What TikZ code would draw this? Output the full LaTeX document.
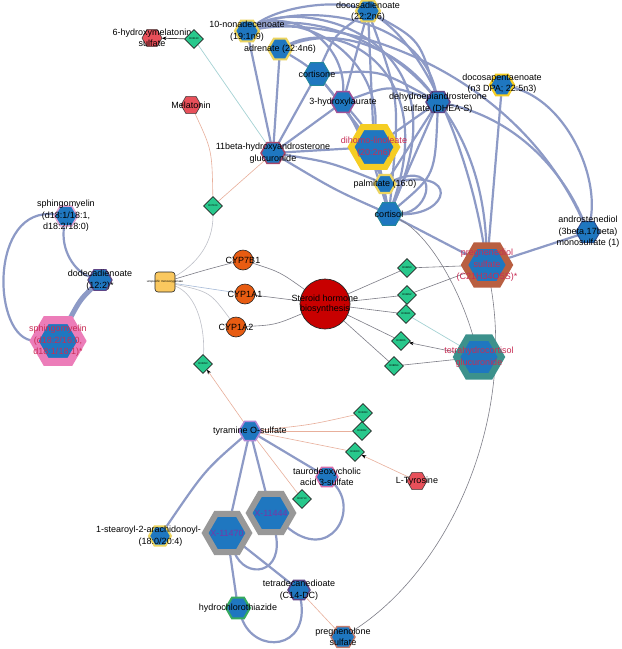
\documentclass[tikz,border=0pt]{standalone}
\usepackage{fontspec}
\setmainfont{Liberation Sans}
\usetikzlibrary{shapes.geometric,arrows.meta,backgrounds}
\definecolor{nodeblue}{RGB}{31,119,192}
\definecolor{edgeblue}{RGB}{141,154,198}
\definecolor{ygold}{RGB}{245,205,35}
\definecolor{ylight}{RGB}{236,212,95}
\definecolor{purp}{RGB}{160,80,150}
\definecolor{dpurp}{RGB}{95,70,135}
\definecolor{rpurp}{RGB}{165,70,105}
\definecolor{lav}{RGB}{175,135,215}
\definecolor{pinkb}{RGB}{215,110,170}
\definecolor{lpink}{RGB}{225,165,210}
\definecolor{tealb}{RGB}{35,135,155}
\definecolor{thcb}{RGB}{60,145,140}
\definecolor{brownb}{RGB}{185,95,65}
\definecolor{sbrown}{RGB}{195,125,110}
\definecolor{greenb}{RGB}{55,170,95}
\definecolor{pinkbig}{RGB}{236,125,185}
\definecolor{grayb}{RGB}{152,152,152}
\definecolor{darkblueb}{RGB}{45,80,150}
\definecolor{redhexc}{RGB}{232,80,90}
\definecolor{diagreen}{RGB}{40,200,140}
\definecolor{cyporange}{RGB}{232,92,18}
\definecolor{steroidred}{RGB}{200,0,0}
\definecolor{sqyellow}{RGB}{250,200,95}
\definecolor{lblred}{RGB}{200,45,85}
\definecolor{lblpurp}{RGB}{120,55,165}
\definecolor{thingray}{RGB}{125,125,135}
\definecolor{lightgrayc}{RGB}{190,192,200}
\definecolor{salmonc}{RGB}{232,175,155}
\definecolor{ltealc}{RGB}{165,210,212}
\definecolor{lbluec}{RGB}{165,185,215}
\begin{document}
\begin{tikzpicture}[x=1pt,y=-1pt,
  hexs/.style={regular polygon, regular polygon sides=6, inner sep=0pt, outer sep=0pt, fill=nodeblue, line join=miter},
  redhex/.style={hexs, fill=redhexc, draw=black!75, line width=0.6, minimum size=20},
  lbl/.style={font=\fontsize{9}{11.5}\selectfont, align=center, text=black, inner sep=0pt},
  rlbl/.style={lbl, text=lblred},
  xlbl/.style={lbl, text=lblpurp},
  dia/.style={diamond, draw=black!85, fill=diagreen, minimum size=19, inner sep=0pt, line width=0.6, font=\fontsize{2.6}{3}\selectfont},
  cyp/.style={circle, fill=cyporange, draw=black!85, line width=0.6, minimum size=20, inner sep=0pt},
  thickedge/.style={draw=edgeblue, line width=2.2},
  grayedge/.style={draw=thingray, line width=0.6},
  lgedge/.style={draw=lightgrayc, line width=0.6},
  saledge/.style={draw=salmonc, line width=0.6},
  ltedge/.style={draw=ltealc, line width=0.7},
  lbedge/.style={draw=lbluec, line width=0.6},
  darkedge/.style={draw=black!75, line width=0.7},
  arrowto/.style={-{Stealth[length=4.5pt,width=3.6pt,color=black]}},
  arrowboth/.style={{Stealth[length=4.5pt,width=3.6pt,color=black]}-{Stealth[length=4.5pt,width=3.6pt,color=black]}}
]
\useasboundingbox (0,0) rectangle (622,649);

% ---------- nodes ----------
\node[redhex] (hms) at (152,38) {};
\node[lbl] (hmsL) at (hms) {6-hydroxymelatonin\\sulfate};
\node[dia] (dm) at (194,39) {R03130};

\node[hexs, draw=ylight, line width=2.2, minimum size=24] (nonad) at (247,31) {};
\node[lbl] (nonadL) at (nonad) {10-nonadecenoate\\(19:1n9)};
\node[hexs, draw=ylight, line width=2.2, minimum size=24] (adren) at (280,49) {};
\node[lbl] (adrenL) at (adren) {adrenate (22:4n6)};
\node[hexs, draw=ylight, line width=2.2, minimum size=24] (docd) at (368,11) {};
\node[lbl] (docdL) at (368,11.8) {docosadienoate\\(22:2n6)};
\node[hexs, draw=tealb, line width=1, minimum size=26] (cortisone) at (317,74) {};
\node[lbl] (cortisoneL) at (cortisone) {cortisone};
\node[hexs, draw=purp, line width=1.5, minimum size=24] (hlaur) at (343,102) {};
\node[lbl] (hlaurL) at (hlaur) {3-hydroxylaurate};
\node[hexs, draw=dpurp, line width=1.5, minimum size=24] (dheas) at (438,102) {};
\node[lbl] (dheasL) at (438,103) {dehydroepiandrosterone\\sulfate (DHEA-S)};
\node[hexs, draw=ygold, line width=2.2, minimum size=24] (dpa) at (502,85) {};
\node[lbl] (dpaL) at (502,83.5) {docosapentaenoate\\(n3 DPA; 22:5n3)};
\node[hexs, draw=ygold, line width=6, minimum size=46] (dihomo) at (374,147) {};
\node[rlbl] (dihomoL) at (dihomo) {dihomo-linoleate\\(20:2n6)};
\node[hexs, draw=rpurp, line width=1.5, minimum size=24] (b11) at (273,153) {};
\node[lbl] (b11L) at (b11) {11beta-hydroxyandrosterone\\glucuronide};
\node[hexs, draw=ylight, line width=2.2, minimum size=21] (palm) at (385,184) {};
\node[lbl] (palmL) at (palm) {palmitate (16:0)};
\node[hexs, draw=tealb, line width=1, minimum size=26] (cortisol) at (389,214) {};
\node[lbl] (cortisolL) at (cortisol) {cortisol};
\node[hexs, draw=darkblueb, line width=1, minimum size=24] (andro) at (588,232) {};
\node[lbl] (androL) at (andro) {androstenediol\\(3beta,17beta)\\monosulfate (1)};
\node[hexs, draw=brownb, line width=6.5, minimum size=45] (preg) at (487,265) {};
\node[rlbl, font=\fontsize{9}{12}\selectfont] (pregL) at (preg) {pregnenediol\\sulfate\\(C21H34O5S)*};

\node[redhex] (mel) at (191,105) {};
\node[lbl] (melL) at (mel) {Melatonin};

\node[circle, fill=steroidred, draw=black!85, line width=0.7, minimum size=50, inner sep=0pt] (steroid) at (325,304) {};
\node[lbl, font=\fontsize{9}{10.5}\selectfont] (steroidL) at (steroid) {Steroid hormone\\biosynthesis};
\node[cyp] (cyp7) at (243,260) {};
\node[lbl] (cyp7L) at (cyp7) {CYP7B1};
\node[cyp] (cypa1) at (245,294) {};
\node[lbl] (cypa1L) at (cypa1) {CYP1A1};
\node[cyp] (cypa2) at (236,327) {};
\node[lbl] (cypa2L) at (cypa2) {CYP1A2};
\node[rectangle, rounded corners=3pt, fill=sqyellow, draw=black!85, line width=0.6, minimum size=20, inner sep=0pt] (sq) at (165,282) {};
\node[lbl, font=\fontsize{3}{3.5}\selectfont] (sqL) at (sq) {unspecific monooxygenase};

\node[dia] (da) at (213,206) {R07104};
\node[dia] (db) at (203,364) {R02353};
\node[dia] (d1) at (407,268) {R04853};
\node[dia] (d2) at (407,295) {R04852};
\node[dia] (d3) at (406,314) {R02461};
\node[dia] (d4) at (401,341) {R03806};
\node[dia] (d5) at (394,366) {R08954};

\node[hexs, draw=thcb, line width=6.5, minimum size=45] (thc) at (479,357) {};
\node[rlbl] (thcL) at (thc) {tetrahydrocortisol\\glucuronide};

\node[hexs, draw=lpink, line width=1.5, minimum size=23] (sph1) at (66,216) {};
\node[lbl] (sph1L) at (sph1) {sphingomyelin\\(d18:1/18:1,\\d18:2/18:0)};
\node[hexs, draw=dpurp, line width=1.2, minimum size=24] (dodeca) at (100,280) {};
\node[lbl] (dodecaL) at (dodeca) {dodecadienoate\\(12:2)*};
\node[hexs, draw=pinkbig, line width=8, minimum size=48] (sph2) at (58,341) {};
\node[rlbl] (sph2L) at (sph2) {sphingomyelin\\(d18:2/16:0,\\d18:1/18:1)*};

\node[hexs, draw=lav, line width=1.5, minimum size=22] (tyr) at (250,431) {};
\node[lbl] (tyrL) at (tyr) {tyramine O-sulfate};
\node[dia] (t1) at (363,413) {R02383};
\node[dia] (t2) at (362,431) {R02382};
\node[dia] (t3) at (355,452) {R04300};
\node[dia] (t4) at (302,499) {R01713};
\node[redhex] (ltyr) at (417,481) {};
\node[lbl] (ltyrL) at (ltyr) {L-Tyrosine};
\node[hexs, draw=pinkb, line width=1.5, minimum size=22] (tauro) at (327,477) {};
\node[lbl] (tauroL) at (tauro) {taurodeoxycholic\\acid 3-sulfate};

\node[hexs, draw=ylight, line width=2, minimum size=22] (stear) at (160,536) {};
\node[lbl] (stearL) at (148.5,536) {1-stearoyl-2-arachidonoyl-\\\hspace*{24pt}(18:0/20:4)};
\node[hexs, draw=grayb, line width=6, minimum size=44] (x444) at (271,513) {};
\node[xlbl] (x444L) at (x444) {X-11444};
\node[hexs, draw=grayb, line width=6, minimum size=44] (x470) at (227,533) {};
\node[xlbl] (x470L) at (x470) {X-11470};
\node[hexs, draw=dpurp, line width=1.5, minimum size=22] (tetra) at (299,590) {};
\node[lbl] (tetraL) at (tetra) {tetradecanedioate\\(C14-DC)};
\node[hexs, draw=greenb, line width=2, minimum size=24] (hydro) at (238,608) {};
\node[lbl] (hydroL) at (hydro) {hydrochlorothiazide};
\node[hexs, draw=sbrown, line width=1.5, minimum size=24] (pregs) at (343,637) {};
\node[lbl] (pregsL) at (pregs) {pregnenolone\\sulfate};

% ---------- edges ----------
\begin{pgfonlayer}{background}
\fill[white] (0,0) rectangle (622,649);

% top cluster
\draw[thickedge] (nonad) -- (b11);
\draw[thickedge] (adren) -- (b11);
\draw[thickedge] (cortisone) -- (b11);
\draw[thickedge] (hlaur) -- (b11);
\draw[thickedge] (b11) -- (dihomo);
\draw[thickedge] (b11) .. controls (330,162) .. (palm);
\draw[thickedge] (b11) .. controls (335,190) .. (cortisol);
\draw[thickedge] (nonad) .. controls (280,6) and (335,0) .. (docd);
\draw[thickedge] (nonad) .. controls (300,2) and (420,15) .. (dheas);
\draw[thickedge] (nonad) .. controls (300,-3) and (470,35) .. (cortisol);
\draw[thickedge] (nonad) .. controls (320,5) and (480,60) .. (preg);
\draw[thickedge] (nonad) .. controls (330,15) and (510,60) .. (andro);
\draw[thickedge] (nonad) .. controls (290,8) and (345,40) .. (hlaur);
\draw[thickedge] (nonad) .. controls (310,12) and (380,60) .. (dihomo);
\draw[thickedge] (adren) .. controls (340,18) and (440,70) .. (cortisol);
\draw[thickedge] (adren) .. controls (340,25) and (400,50) .. (dheas);
\draw[thickedge] (adren) .. controls (315,70) .. (dihomo);
\draw[thickedge] (docd) -- (hlaur);
\draw[thickedge] (docd) -- (dihomo);
\draw[thickedge] (docd) .. controls (400,100) .. (cortisol);
\draw[thickedge] (docd) .. controls (420,40) .. (dheas);
\draw[thickedge] (docd) .. controls (335,35) .. (cortisone);
\draw[thickedge] (docd) .. controls (430,50) and (470,160) .. (preg);
\draw[thickedge] (cortisone) .. controls (365,135) .. (cortisol);
\draw[thickedge] (cortisone) .. controls (380,70) .. (dheas);
\draw[thickedge] (hlaur) .. controls (375,140) .. (cortisol);
\draw[thickedge] (hlaur) .. controls (390,85) .. (dheas);
\draw[thickedge] (hlaur) -- (palm);
\draw[thickedge] (dheas) -- (cortisol);
\draw[thickedge] (dheas) .. controls (435,175) .. (cortisol);
\draw[thickedge] (dheas) -- (dihomo);
\draw[thickedge] (dheas) -- (palm);
\draw[thickedge] (dheas) .. controls (520,120) and (565,175) .. (andro);
\draw[thickedge] (dihomo) -- (cortisol);
\draw[thickedge] (palm) .. controls (460,168) and (450,215) .. (cortisol);
\draw[thickedge] (palm) .. controls (442,160) and (430,212) .. (cortisol);
\draw[thickedge] (cortisol) -- (preg);
\draw[thickedge] (dpa) -- (preg);
\draw[thickedge] (dpa) .. controls (565,100) and (600,175) .. (andro);
\draw[thickedge] (preg) -- (andro);

% left cluster
\draw[thickedge] (sph1) .. controls (60,250) and (75,272) .. (dodeca);
\draw[thickedge] (sph1) .. controls (-12,205) and (-8,340) .. (sph2);
\draw[draw=edgeblue, line width=5] (dodeca) .. controls (80,300) .. (sph2);

% lower cluster
\draw[thickedge] (tyr) .. controls (205,470) .. (stear);
\draw[thickedge] (tyr) -- (x470);
\draw[thickedge] (tyr) -- (x444);
\draw[thickedge] (tyr) -- (tauro);
\draw[thickedge] (tauro) .. controls (360,510) and (330,565) .. (x444);
\draw[thickedge] (x444) .. controls (285,575) and (245,580) .. (x470);
\draw[thickedge] (x470) -- (hydro);
\draw[thickedge] (x470) -- (tetra);
\draw[thickedge] (hydro) .. controls (255,655) and (310,650) .. (tetra);

% thin edges
\draw[darkedge, arrowto] (dm) -- (hms);
\draw[ltedge] (dm) -- (b11);
\draw[saledge] (mel) .. controls (212,150) .. (da);
\draw[saledge] (b11) -- (da);
\draw[lgedge] (da) .. controls (213,245) and (195,265) .. (sq);
\draw[grayedge] (sq) .. controls (205,270) .. (cyp7);
\draw[lbedge] (sq) -- (cypa1);
\draw[lgedge] (sq) .. controls (210,292) .. (cypa2);
\draw[lgedge] (sq) .. controls (198,295) and (205,330) .. (db);
\draw[grayedge] (cyp7) .. controls (280,272) .. (steroid);
\draw[grayedge] (cypa1) -- (steroid);
\draw[grayedge] (cypa2) .. controls (275,325) .. (steroid);
\draw[grayedge] (steroid) -- (d1);
\draw[grayedge] (steroid) -- (d2);
\draw[grayedge] (steroid) -- (d3);
\draw[grayedge] (steroid) -- (d4);
\draw[grayedge] (steroid) -- (d5);
\draw[grayedge] (d1) -- (preg);
\draw[grayedge] (d2) -- (preg);
\draw[ltedge] (d3) -- (thc);
\draw[grayedge, arrowboth] (d4) -- (thc);
\draw[grayedge] (d5) -- (thc);
\draw[grayedge] (cortisol) .. controls (430,235) and (460,290) .. (thc);
\draw[grayedge] (preg) .. controls (515,420) and (450,570) .. (pregs);
\draw[saledge, arrowto] (tyr) -- (db);
\draw[saledge] (tyr) .. controls (310,425) .. (t1);
\draw[saledge] (tyr) -- (t2);
\draw[saledge] (tyr) -- (t3);
\draw[saledge, arrowto] (ltyr) -- (t3);
\draw[saledge] (tyr) -- (t4);
\draw[saledge] (tetra) -- (pregs);
\end{pgfonlayer}
\end{tikzpicture}
\end{document}
